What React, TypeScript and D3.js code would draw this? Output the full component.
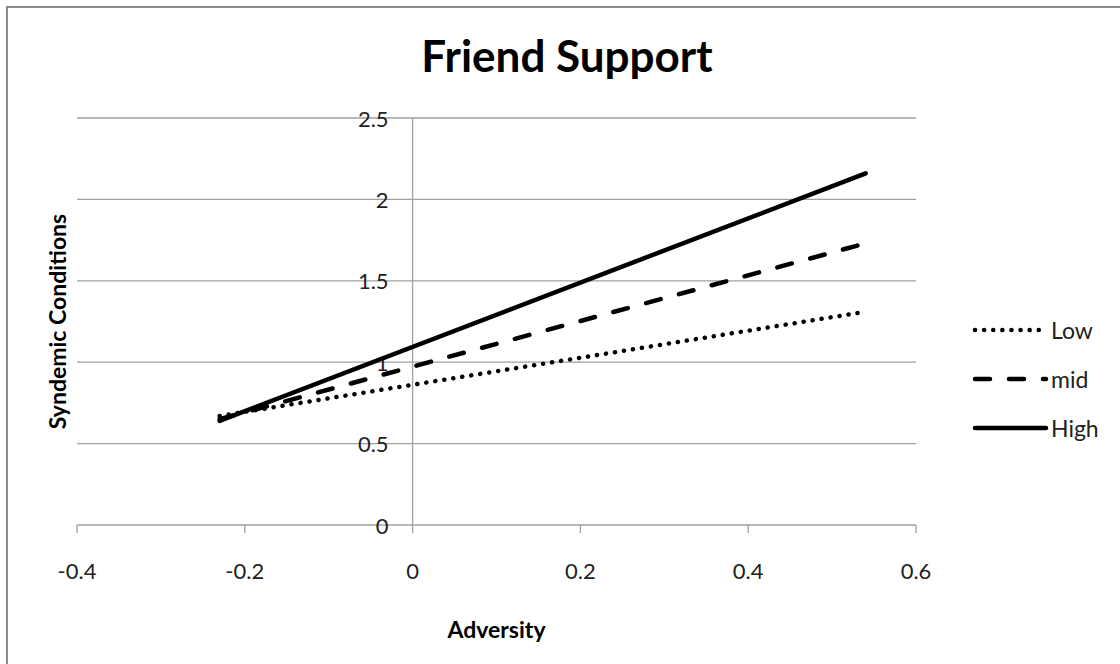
import React from "react";
import * as d3 from "d3";

const adversity = [-0.23, 0.54];
const lowValues = [0.67, 1.31];
const midValues = [0.65, 1.73];
const highValues = [0.64, 2.16];
const seriesNames = ["Low", "mid", "High"];
const xTicks = [-0.4, -0.2, 0, 0.2, 0.4, 0.6];
const yTicks = [0, 0.5, 1, 1.5, 2, 2.5];

const W = 1120;
const H = 664;
const FONT = "Lato, 'Open Sans', sans-serif";

export default function App() {
  const x = d3.scaleLinear().domain([-0.4, 0.6]).range([77, 916]);
  const y = d3.scaleLinear().domain([0, 2.5]).range([525, 118]);
  const line = d3
    .line<[number, number]>()
    .x((d) => x(d[0]))
    .y((d) => y(d[1]));
  const series = [
    { name: seriesNames[0], values: lowValues, dash: "0.1 9", width: 4.5 },
    { name: seriesNames[1], values: midValues, dash: "15 19", width: 4.5 },
    { name: seriesNames[2], values: highValues, dash: null, width: 4.5 },
  ];
  const legendY = [330, 379, 428];
  return (
    <svg
      width={W}
      height={H}
      style={{ position: "absolute", left: 0, top: 0, background: "#fff" }}
    >
      <rect x={0} y={0} width={W} height={H} fill="#fff" />
      <rect x={7} y={7} width={W + 20} height={H + 20} fill="none" stroke="#8c8c8c" strokeWidth={2} />
      <text x={567} y={72} textAnchor="middle" fontFamily={FONT} fontWeight="bold" fontSize={44} fill="#000">
        Friend Support
      </text>
      {yTicks.map((t) => (
        <line key={"g" + t} x1={x(-0.4)} x2={x(0.6)} y1={y(t)} y2={y(t)} stroke="#a0a0a0" strokeWidth={1.3} />
      ))}
      <line x1={x(0)} x2={x(0)} y1={y(0)} y2={y(2.5)} stroke="#a0a0a0" strokeWidth={1.3} />
      {xTicks.map((t) => (
        <line key={"xt" + t} x1={x(t)} x2={x(t)} y1={y(0)} y2={y(0) + 8} stroke="#a0a0a0" strokeWidth={1.3} />
      ))}
      {yTicks.map((t) => (
        <text key={"yl" + t} x={x(0) - 24} y={y(t)} textAnchor="end" dominantBaseline="central" fontFamily={FONT} fontSize={22} fill="#222">
          {String(t)}
        </text>
      ))}
      {xTicks.map((t) => (
        <text key={"xl" + t} x={x(t)} y={570} textAnchor="middle" dominantBaseline="central" fontFamily={FONT} fontSize={22} fill="#222">
          {String(t)}
        </text>
      ))}
      <text x={(x(-0.4) + x(0.6)) / 2} y={629} textAnchor="middle" dominantBaseline="central" fontFamily={FONT} fontWeight="bold" fontSize={23} fill="#000">
        Adversity
      </text>
      <text transform={`translate(57,${(y(0) + y(2.5)) / 2}) rotate(-90)`} textAnchor="middle" dominantBaseline="central" fontFamily={FONT} fontWeight="bold" fontSize={23} fill="#000">
        Syndemic Conditions
      </text>
      {series.map((s) => (
        <path
          key={s.name}
          d={line(adversity.map((a, i) => [a, s.values[i]] as [number, number])) || ""}
          fill="none"
          stroke="#000"
          strokeWidth={s.width}
          strokeLinecap="round"
          strokeDasharray={s.dash || undefined}
        />
      ))}
      {series.map((s, i) => (
        <g key={"lg" + s.name}>
          <line x1={975} x2={1046} y1={legendY[i]} y2={legendY[i]} stroke="#000" strokeWidth={s.width} strokeLinecap="round" strokeDasharray={s.dash || undefined} />
          <text x={1051} y={legendY[i]} dominantBaseline="central" fontFamily={FONT} fontSize={23} fill="#222">
            {s.name}
          </text>
        </g>
      ))}
    </svg>
  );
}
